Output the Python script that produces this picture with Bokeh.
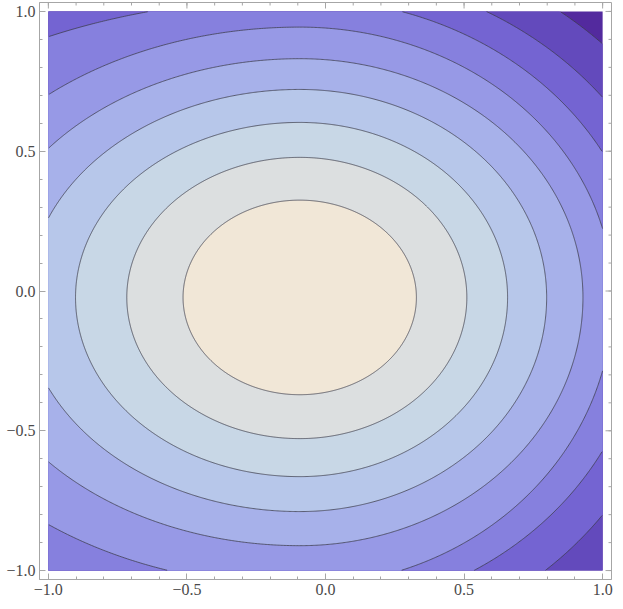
import numpy as np
from bokeh.plotting import figure
from bokeh.models import FixedTicker, CustomJSTickFormatter, Range1d
from bokeh.embed import file_html
from bokeh.resources import INLINE

# ---- data ----
domain = [-1.0, 1.0]
center_x = -0.093
center_y = -0.023
# semi-axes of each contour line (inner -> outer), in data units
semi_right = [0.421, 0.603, 0.750, 0.891, 1.022, 1.13, 1.25, 1.38, 1.53]
semi_left_upper = [0.421, 0.624, 0.809, 0.981, 1.161, 1.371, 1.85, 2.2, 2.6]
semi_left_lower = [0.421, 0.624, 0.809, 1.0, 1.21, 1.47, 1.9, 2.3, 2.7]
semi_top = [0.348, 0.501, 0.626, 0.744, 0.854, 0.967, 1.07, 1.172, 1.296]
semi_bottom = [0.348, 0.505, 0.641, 0.766, 0.888, 1.032, 1.13, 1.274, 1.43]
# band colours, band 1 = inside first contour, band 10 = outside last
band_colors = ["#f1e7d7", "#dcdfe0", "#c8d7e6", "#b7c7ea", "#a7b1ea",
               "#9799e6", "#8680de", "#7464d2", "#634abc", "#532a9e"]
major_ticks = [-1.0, -0.5, 0.0, 0.5, 1.0]
minor_ticks = [round(v, 1) for v in np.arange(-1.0, 1.05, 0.1)]

pad = 0.032
frame_col = "#a6a6a6"
label_col = "#4a4a4a"
edge = domain[1] + pad

p = figure(width=613, height=603,
           x_range=Range1d(domain[0] - pad, domain[1] + pad),
           y_range=Range1d(domain[0] - pad, domain[1] + pad),
           output_backend="svg", toolbar_location=None,
           min_border_left=39, min_border_right=2,
           min_border_top=2, min_border_bottom=24,
           background_fill_color="white", border_fill_color="white")
p.xgrid.visible = False
p.ygrid.visible = False
p.outline_line_color = frame_col

# background = outermost band
p.quad(left=domain[0], right=domain[1], bottom=domain[0], top=domain[1],
       fill_color=band_colors[-1], line_color=None)

t = np.linspace(0, 2 * np.pi, 1441)
ct, st = np.cos(t), np.sin(t)
curves = []
for i in range(len(semi_top)):
    a_left = np.where(st >= 0, semi_left_upper[i], semi_left_lower[i])
    a = np.where(ct >= 0, semi_right[i], a_left)
    b = np.where(st >= 0, semi_top[i], semi_bottom[i])
    curves.append((center_x + a * ct, center_y + b * st))

# filled bands, painted from outside in
for i in range(len(curves) - 1, -1, -1):
    x, y = curves[i]
    p.patch(np.clip(x, domain[0], domain[1]), np.clip(y, domain[0], domain[1]),
            fill_color=band_colors[i], line_color=None)

# contour lines
for x, y in curves:
    inside = (x >= domain[0]) & (x <= domain[1]) & (y >= domain[0]) & (y <= domain[1])
    p.line(np.where(inside, x, np.nan), np.where(inside, y, np.nan),
           line_color="#3c3c4a", line_alpha=0.75, line_width=1)

# inward ticks on the top and right frame edges (half of each dash is clipped away)
p.scatter(x=major_ticks, y=[edge] * len(major_ticks), marker="dash", angle=np.pi / 2,
          size=12, line_color=frame_col, line_width=1)
p.scatter(x=minor_ticks, y=[edge] * len(minor_ticks), marker="dash", angle=np.pi / 2,
          size=6, line_color=frame_col, line_width=1)
p.scatter(x=[edge] * len(major_ticks), y=major_ticks, marker="dash",
          size=12, line_color=frame_col, line_width=1)
p.scatter(x=[edge] * len(minor_ticks), y=minor_ticks, marker="dash",
          size=6, line_color=frame_col, line_width=1)

fmt = CustomJSTickFormatter(code="return tick.toFixed(1).replace('-', '\u2212');")

for ax in (p.xaxis[0], p.yaxis[0]):
    ax.ticker = FixedTicker(ticks=major_ticks, minor_ticks=minor_ticks)
    ax.formatter = fmt
    ax.major_tick_in = 6
    ax.major_tick_out = 0
    ax.minor_tick_in = 3
    ax.minor_tick_out = 0
    ax.axis_line_color = frame_col
    ax.major_tick_line_color = frame_col
    ax.minor_tick_line_color = frame_col
    ax.major_label_text_font = "Liberation Serif"
    ax.major_label_text_font_size = "16px"
    ax.major_label_text_color = label_col
    ax.major_label_standoff = 4

open("out.html", "w").write(file_html(p, INLINE))
